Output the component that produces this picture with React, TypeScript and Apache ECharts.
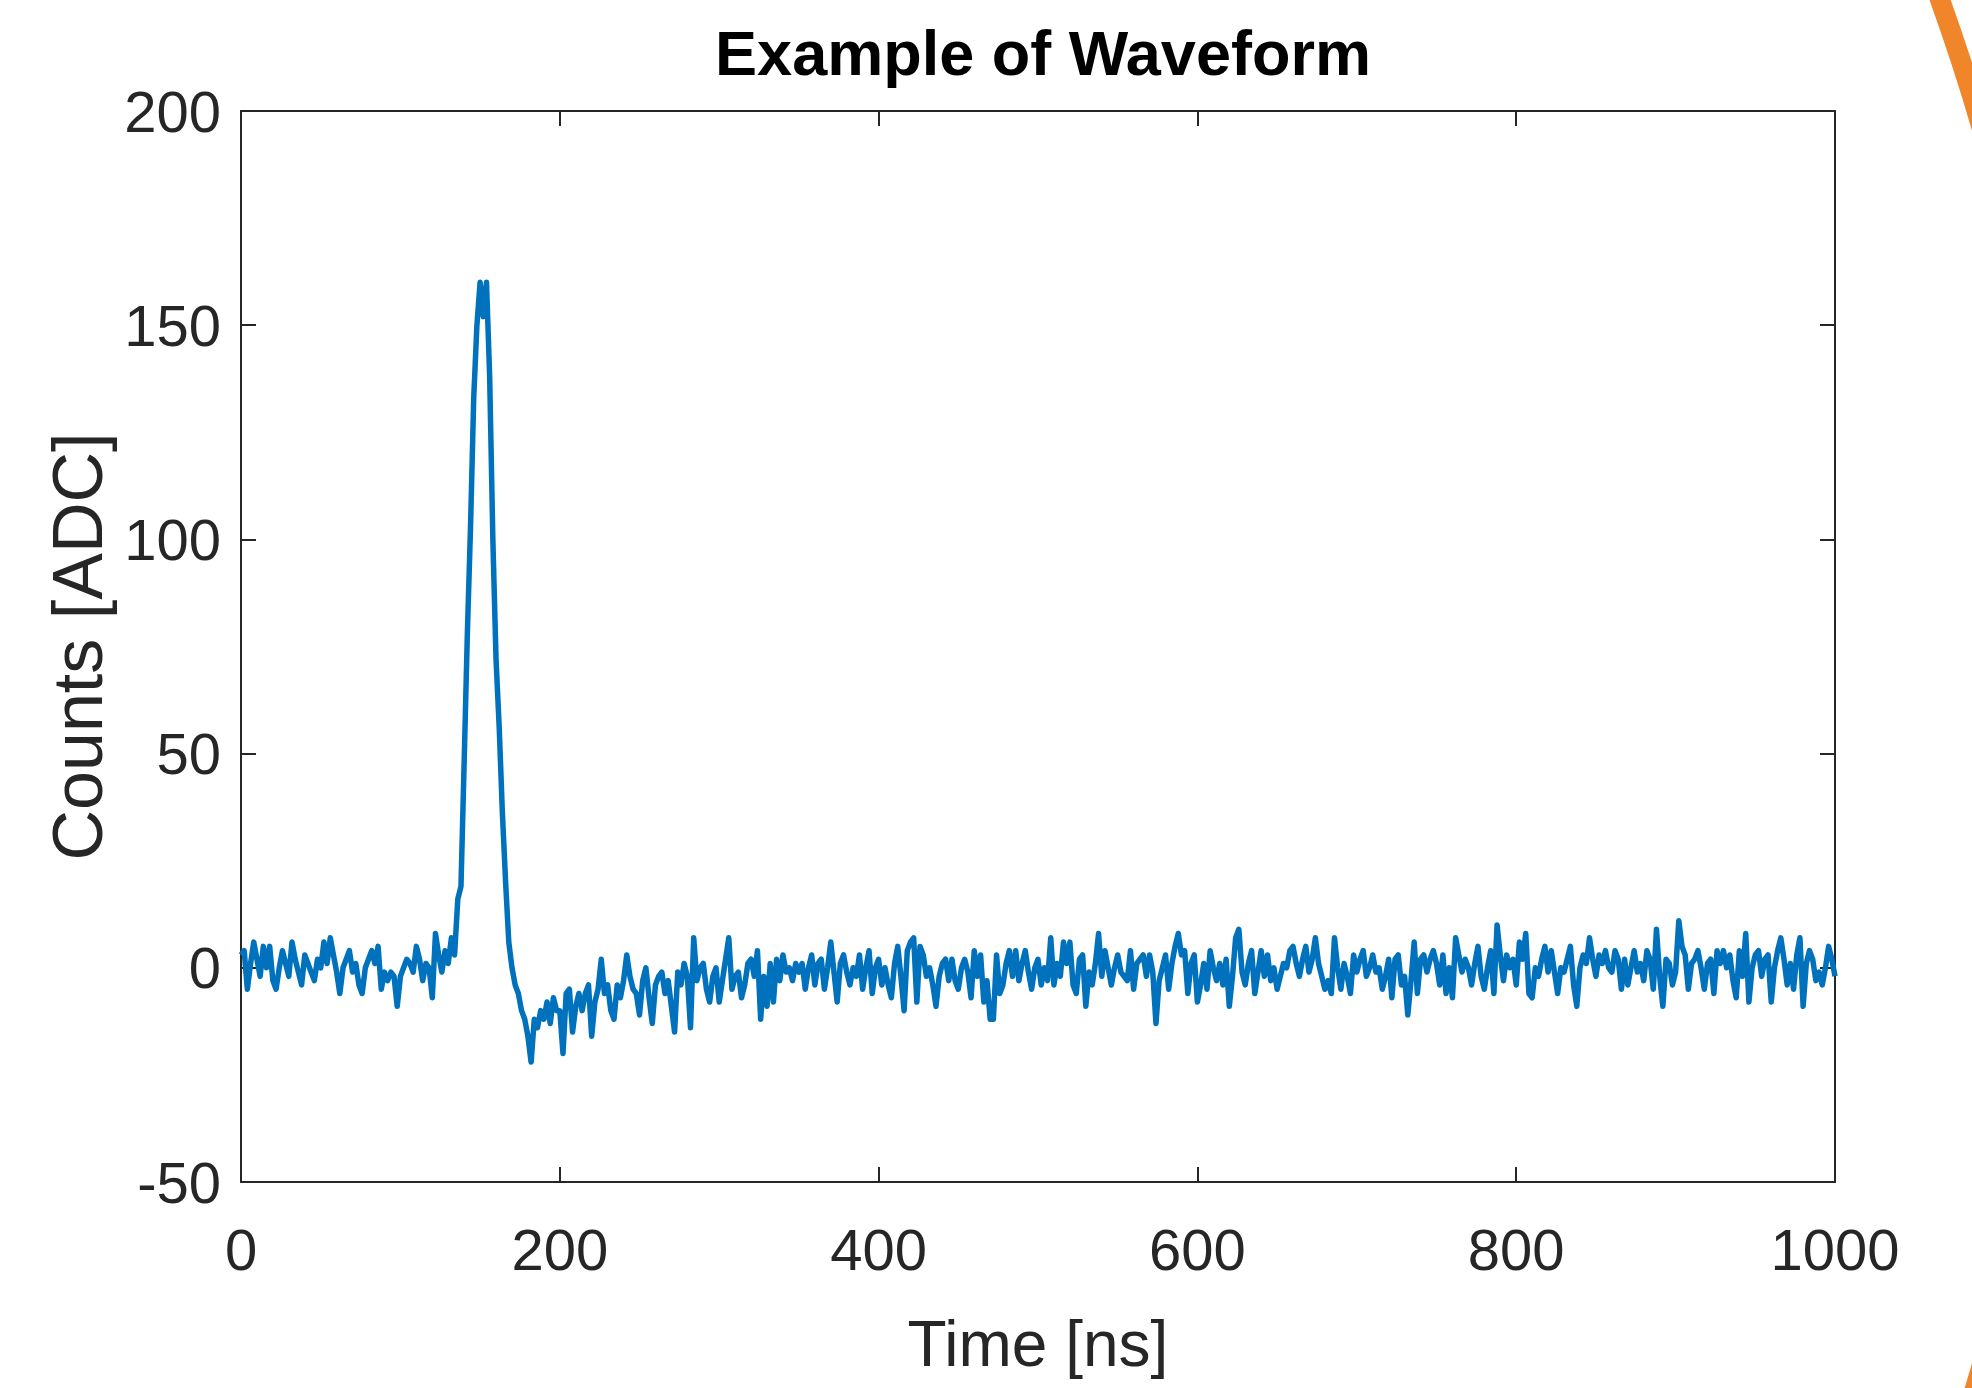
import React, { useEffect, useRef } from "react";
import * as echarts from "echarts";

// Sample spacing of the digitised waveform (ns)
const sampleStepNs = 2;

// Counts [ADC], segment by segment (start time in ns)
const baselineStart = 0;
const baselineCounts = [3,4,-5,1,6,2,-2,5,0,5,-3,-5,0,4,1,-2,6,2,-1,-4,3,1,-1,-3,2,0,6,1,7,3,-1,-6,0,2,4,-1,1,-4,-6,0,2,4,1,5,-5,-1,-3,-1,-2,-9,-2,0,2,1,-1,5,2,-3,1,0,-7,8,3,-1,4,1,7];
const pulseStart = 134;
const pulseCounts = [3,16,19,48,78,103,133,150,160,152,160,138,100,72,56,36,20,6,0,-4,-6,-10,-12,-16,-22,-12,-14,-10,-12,-8,-13,-7,-10];
const tailStart = 200;
const tailCounts = [-10,-20,-6,-5,-15,-9,-6,-10,-6,-4,-16,-8,-5,2,-6,-4,-10,-12,-4,-7,-3,3,-2,-5,-6,-11,-3,0,-7,-13,-4,-2,-1,-6,-3,-9,-15,-1,-4,1,-2,-14,7,-3,0,1,-5,-8,-2,0,-8,-3,2,7,-5,-2,-1,-7,-4,1,2,-2,4,-12,-2,-9,1];
const seg4Start = 334;
const seg4Counts = [-8,2,-3,3,-1,0,-3,1,-1,1,-5,0,3,-4,1,2,-5,0,6,-1,-8,1,3,-1,-4,0,-2,3,-5,0,4,-6,0,2,-4,0,-4,-7,1,5,-2,-10,4,6,7,-8,5,3,-2,0,-4,-9,-2,1,2,-3,2,-3,-5,0,2,-1,-7,4,-2,3,-8,-3,-12];
const seg5Start = 472;
const seg5Counts = [-12,3,-6,-4,1,4,-2,4,-3,1,4,-1,-5,0,2,-4,0,-3,7,-4,1,-2,6,1,6,-4,-6,2,3,-9,-1,-4,1,8,-2,4,0,-4,0,3,-1,-2,-3,4,-5,1,2,3,-2,3,-1,-13,-3,0,3,-5,1,5,8,3,4,-6,1,3,-8];
const seg6Start = 602;
const seg6Counts = [-4,1,-5,4,0,-3,1,-4,2,-9,-2,7,9,-1,-4,1,4,-6,-1,4,-2,3,-3,0,-5,-2,1,0,4,5,1,-2,2,5,-1,2,7,1,-2,-5,-3,-6,7,0,-5,1,-2,-6,3,-1,2,4,-2,0,3,-1,0,-5,-2,2,-7,2,3,-4,-2,-11,-3];
const seg7Start = 736;
const seg7Counts = [6,-6,2,3,-1,2,4,1,-4,3,-6,0,-7,7,3,-1,2,0,-4,1,5,-2,-5,0,4,-6,10,3,-3,3,0,2,-4,6,2,8,-6,-7,0,-2,2,5,-1,4,-1,-6,0,-1,2,5,-4,-9,0,3,1,7,2,-2,3,1,4,0,-1,4,2];
const seg8Start = 866;
const seg8Counts = [-5,2,-4,0,4,-1,1,-3,4,2,-5,9,-2,-9,2,1,-4,-1,11,5,3,-5,1,2,4,0,-5,1,2,-6,4,1,4,0,3,-3,-7,4,-2,8,-8,0,3,4,-2,2,3,-8,0,4,7,2,-4,1,-5,3,7,-9,1,4,2,-3,-1,-4,0,5,2,-2];

const xTicks = [0, 200, 400, 600, 800, 1000];
const yTicks = [-50, 0, 50, 100, 150, 200];

const segments: [number, number[]][] = [
  [baselineStart, baselineCounts],
  [pulseStart, pulseCounts],
  [tailStart, tailCounts],
  [seg4Start, seg4Counts],
  [seg5Start, seg5Counts],
  [seg6Start, seg6Counts],
  [seg7Start, seg7Counts],
  [seg8Start, seg8Counts],
];

const FONT = "'Liberation Sans', Arial, Helvetica, sans-serif";
const AXIS_COLOR = "#262626";

export default function App() {
  const ref = useRef<HTMLDivElement>(null);

  useEffect(() => {
    if (!ref.current) return;
    const chart = echarts.init(ref.current, undefined, { renderer: "svg" });

    const data: [number, number][] = [];
    segments.forEach(([start, vals]) => {
      vals.forEach((v, i) => {
        const t = start + i * sampleStepNs;
        if (t <= xTicks[xTicks.length - 1]) data.push([t, v]);
      });
    });

    const xMin = xTicks[0];
    const xMax = xTicks[xTicks.length - 1];
    const xInt = xTicks[1] - xTicks[0];
    const yMin = yTicks[0];
    const yMax = yTicks[yTicks.length - 1];
    const yInt = yTicks[1] - yTicks[0];

    const axisLine = { show: true, onZero: false, lineStyle: { color: AXIS_COLOR, width: 2 } };
    const axisTick = { show: true, inside: true, length: 15, lineStyle: { color: AXIS_COLOR, width: 2 } };
    const plain = (v: number) => String(v);

    chart.setOption({
      animation: false,
      backgroundColor: "#ffffff",
      title: {
        text: "Example of Waveform",
        left: 1038,
        top: 16,
        textAlign: "center",
        textStyle: { fontFamily: FONT, fontWeight: "bold", fontSize: 63, color: "#000000" },
      },
      grid: { left: 241, right: 137, top: 111, bottom: 206, show: false },
      xAxis: [
        {
          type: "value",
          min: xMin,
          max: xMax,
          interval: xInt,
          position: "bottom",
          name: "Time [ns]",
          nameLocation: "middle",
          nameGap: 130,
          nameTextStyle: { fontFamily: FONT, fontSize: 64, color: AXIS_COLOR },
          axisLine,
          axisTick,
          splitLine: { show: false },
          axisLabel: { fontFamily: FONT, fontSize: 58, color: AXIS_COLOR, margin: 38, formatter: plain },
        },
        {
          type: "value",
          min: xMin,
          max: xMax,
          interval: xInt,
          position: "top",
          axisLine,
          axisTick,
          splitLine: { show: false },
          axisLabel: { show: false },
        },
      ],
      yAxis: [
        {
          type: "value",
          min: yMin,
          max: yMax,
          interval: yInt,
          position: "left",
          name: "Counts [ADC]",
          nameLocation: "middle",
          nameGap: 128,
          nameTextStyle: { fontFamily: FONT, fontSize: 70, color: AXIS_COLOR },
          axisLine,
          axisTick,
          splitLine: { show: false },
          axisLabel: { fontFamily: FONT, fontSize: 58, color: AXIS_COLOR, margin: 20, formatter: plain },
        },
        {
          type: "value",
          min: yMin,
          max: yMax,
          interval: yInt,
          position: "right",
          axisLine,
          axisTick,
          splitLine: { show: false },
          axisLabel: { show: false },
        },
      ],
      series: [
        {
          type: "line",
          xAxisIndex: 0,
          yAxisIndex: 0,
          data,
          showSymbol: false,
          symbol: "none",
          lineStyle: { color: "#0072BD", width: 5.5, join: "round" },
          clip: true,
        },
      ],
      graphic: [
        {
          type: "circle",
          shape: { cx: -141, cy: 747, r: 2211 },
          style: { fill: "none", stroke: "#F0852A", lineWidth: 20 },
          silent: true,
          z: 100,
        },
      ],
    });

    return () => {
      chart.dispose();
    };
  }, []);

  return (
    <div
      ref={ref}
      style={{ position: "absolute", left: 0, top: 0, width: 1972, height: 1388, background: "#fff" }}
    />
  );
}
